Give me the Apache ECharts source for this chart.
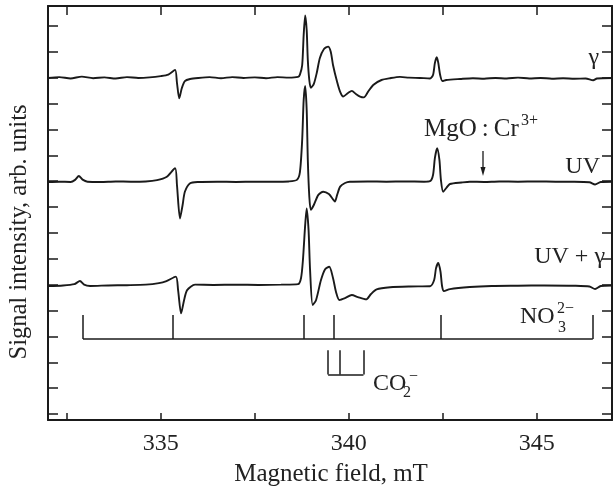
<!DOCTYPE html>
<html>
<head>
<meta charset="utf-8">
<script src="https://cdn.jsdelivr.net/npm/echarts@6/dist/echarts.min.js"></script>
<style>
  html, body { margin: 0; padding: 0; background: #fff; }
  #chart { width: 613px; height: 491px; }
</style>
</head>
<body>
<div id="chart"></div>
<script>
  // field (mT) / signal (arb. units, offset per trace)
  const gamma = [
    [332.0, 12.99], [332.3, 13.02], [332.6, 12.97], [332.9, 13.04], [333.2, 12.98], [333.5, 13.01],
    [333.8, 12.97], [334.1, 13.02], [334.4, 12.99], [334.7, 13.01], [335.0, 13.06], [335.2, 13.12],
    [335.38, 13.3], [335.43, 12.8], [335.49, 12.2], [335.56, 12.6], [335.64, 12.87], [335.78, 12.95],
    [336.0, 12.99], [336.3, 13.02], [336.6, 12.98], [336.9, 13.02], [337.2, 12.99], [337.5, 13.01],
    [337.8, 12.98], [338.1, 13.02], [338.4, 13.0], [338.65, 13.03], [338.70, 13.12], [338.76, 13.48],
    [338.80, 14.65], [338.84, 15.4], [338.88, 14.84], [338.91, 13.68], [338.95, 12.9], [338.99, 12.61],
    [339.07, 12.76], [339.15, 13.2], [339.23, 13.76], [339.34, 14.11], [339.45, 14.2], [339.52, 14.0],
    [339.58, 13.49], [339.69, 12.83], [339.77, 12.45], [339.85, 12.27], [339.98, 12.41], [340.08, 12.49],
    [340.19, 12.37], [340.30, 12.27], [340.40, 12.24], [340.51, 12.45], [340.65, 12.72], [340.87, 12.91],
    [341.10, 12.98], [341.36, 13.03], [341.6, 13.0], [341.89, 12.99], [342.16, 12.97], [342.24, 13.1],
    [342.29, 13.57], [342.34, 13.79], [342.38, 13.57], [342.43, 13.1], [342.49, 12.87], [342.59, 12.91],
    [342.96, 12.95], [343.3, 12.98], [343.6, 12.96], [343.9, 12.99], [344.2, 12.97], [344.5, 13.0],
    [344.8, 12.97], [345.1, 12.99], [345.4, 12.96], [345.7, 12.98], [346.0, 12.96], [346.3, 12.97],
    [346.5, 12.9], [346.6, 12.97], [347.0, 12.99]
  ];

  const uv = [
    [332.0, 8.97], [332.3, 8.98], [332.6, 8.97], [332.72, 9.05], [332.82, 9.2], [332.92, 9.06],
    [333.05, 8.98], [333.4, 8.97], [333.8, 8.99], [334.2, 8.98], [334.6, 8.99], [334.9, 9.04],
    [335.15, 9.16], [335.38, 9.5], [335.43, 8.85], [335.51, 7.56], [335.58, 8.08], [335.64, 8.59],
    [335.78, 8.92], [336.0, 8.97], [336.5, 8.98], [337.0, 8.97], [337.5, 8.98], [338.0, 8.98],
    [338.4, 8.99], [338.62, 9.05], [338.70, 9.35], [338.76, 10.59], [338.80, 12.14], [338.84, 12.68],
    [338.88, 11.75], [338.91, 9.82], [338.95, 8.4], [338.99, 7.89], [339.07, 8.08], [339.19, 8.47],
    [339.32, 8.59], [339.47, 8.5], [339.58, 8.3], [339.63, 8.21], [339.69, 8.47], [339.77, 8.79],
    [339.90, 8.93], [340.03, 8.98], [340.5, 8.99], [341.0, 8.98], [341.5, 8.99], [342.0, 8.98],
    [342.16, 9.0], [342.24, 9.24], [342.29, 9.9], [342.35, 10.27], [342.41, 9.82], [342.45, 9.05],
    [342.51, 8.59], [342.6, 8.75], [342.69, 8.89], [343.0, 8.95], [343.22, 8.98], [343.6, 8.97],
    [344.0, 8.99], [344.5, 8.98], [345.0, 8.99], [345.5, 8.98], [346.0, 8.98], [346.4, 8.96],
    [346.55, 8.87], [346.7, 8.97], [347.0, 8.98]
  ];

  const uvGamma = [
    [332.0, 4.95], [332.4, 4.97], [332.7, 5.02], [332.85, 5.14], [332.96, 5.0], [333.12, 4.95],
    [333.6, 4.97], [334.1, 4.98], [334.6, 5.0], [334.95, 5.06], [335.15, 5.14], [335.40, 5.31],
    [335.46, 4.79], [335.54, 3.89], [335.62, 4.41], [335.70, 4.79], [335.91, 5.0], [336.4, 4.99],
    [337.0, 5.0], [337.6, 4.99], [338.2, 5.0], [338.65, 5.02], [338.73, 5.26], [338.78, 5.95],
    [338.84, 7.31], [338.88, 7.95], [338.93, 7.11], [338.97, 5.57], [339.04, 4.21], [339.13, 4.41],
    [339.26, 5.18], [339.37, 5.6], [339.48, 5.69], [339.58, 5.26], [339.66, 4.72], [339.75, 4.41],
    [339.90, 4.48], [340.08, 4.6], [340.24, 4.52], [340.46, 4.43], [340.59, 4.64], [340.74, 4.82],
    [341.10, 4.9], [341.63, 4.93], [342.16, 4.94], [342.27, 5.18], [342.32, 5.64], [342.38, 5.84],
    [342.44, 5.49], [342.48, 4.95], [342.53, 4.75], [342.69, 4.83], [343.22, 4.91], [343.8, 4.95],
    [344.5, 4.96], [345.2, 4.97], [346.0, 4.96], [346.4, 4.93], [346.55, 4.83], [346.7, 4.95],
    [347.0, 4.97]
  ];

  // stick diagrams
  const no3Lines = [332.93, 335.32, 338.81, 339.61, 342.45, 346.49];
  const co2Lines = [339.45, 339.77, 340.39];

  const xTicks = [332.5, 335, 337.5, 340, 342.5, 345];
  const xLabels = [335, 340, 345];
  const yTicks = [0, 1, 2, 3, 4, 5, 6, 7, 8, 9, 10, 11, 12, 13, 14, 15];

  const ink = '#1a1a1a';
  const serif = '"Liberation Serif", "Times New Roman", serif';

  const sticks = (pos, base, top) => {
    const out = [{ coords: [[pos[0], base], [pos[pos.length - 1], base]] }];
    pos.forEach((p) => out.push({ coords: [[p, base], [p, top]] }));
    return out;
  };

  const frameX = (position, len, labels) => ({
    type: 'value',
    min: 332,
    max: 347,
    position: position,
    axisLine: { show: true, onZero: false, lineStyle: { color: ink, width: 2 } },
    axisTick: { show: true, inside: true, length: len, customValues: xTicks, lineStyle: { color: ink, width: 1.5 } },
    axisLabel: labels
      ? { show: true, customValues: xLabels, fontSize: 24, fontFamily: serif, color: '#222', margin: 12 }
      : { show: false },
    splitLine: { show: false },
  });

  const frameY = (position) => ({
    type: 'value',
    min: -0.23,
    max: 15.77,
    position: position,
    axisLine: { show: true, onZero: false, lineStyle: { color: ink, width: 2 } },
    axisTick: { show: true, inside: true, length: 10, customValues: yTicks, lineStyle: { color: ink, width: 1.5 } },
    axisLabel: { show: false },
    splitLine: { show: false },
  });

  const trace = (data) => ({
    type: 'line',
    data: data,
    xAxisIndex: 0,
    yAxisIndex: 0,
    showSymbol: false,
    smooth: 0.25,
    lineStyle: { color: ink, width: 1.9 },
    silent: true,
    animation: false,
  });

  const txt = (text, x, y, size, align) => ({
    type: 'text',
    x: x,
    y: y,
    style: { text: text, fill: '#222', font: size + 'px ' + serif, align: align || 'left', verticalAlign: 'middle' },
  });

  const chart = echarts.init(document.getElementById('chart'), null, { renderer: 'canvas' });

  chart.setOption({
    animation: false,
    grid: { left: 48, top: 6, right: 1, bottom: 71 },
    xAxis: [frameX('bottom', 7, true), frameX('top', 9, false)],
    yAxis: [frameY('left'), frameY('right')],
    series: [
      trace(gamma),
      trace(uv),
      trace(uvGamma),
      {
        type: 'lines',
        coordinateSystem: 'cartesian2d',
        data: sticks(no3Lines, 2.9, 3.83),
        lineStyle: { color: ink, width: 1.5, opacity: 1 },
        silent: true,
      },
      {
        type: 'lines',
        coordinateSystem: 'cartesian2d',
        data: sticks(co2Lines, 1.53, 2.47),
        lineStyle: { color: ink, width: 1.5, opacity: 1 },
        silent: true,
      },
    ],
    graphic: [
      {
        type: 'text',
        x: 20,
        y: 232,
        rotation: Math.PI / 2,
        style: { text: 'Signal intensity, arb. units', fill: '#222', font: '24.5px ' + serif, align: 'center', verticalAlign: 'middle' },
      },
      txt('Magnetic field, mT', 331, 474, 25, 'center'),
      txt('γ', 599, 58, 24, 'right'),
      txt('MgO\u2009:\u2009Cr', 424, 129, 25),
      txt('3+', 521, 121, 16),
      txt('UV', 600, 167, 24, 'right'),
      txt('UV + γ', 605, 257, 24, 'right'),
      txt('NO', 520, 317, 24),
      txt('2−', 557, 309, 16),
      txt('3', 558, 328, 16),
      txt('CO', 373, 384, 24),
      txt('−', 409, 377, 16),
      txt('2', 403, 393, 16),
      // arrow to MgO:Cr3+ line
      { type: 'line', shape: { x1: 483, y1: 151, x2: 483, y2: 170 }, style: { stroke: ink, lineWidth: 1.3 } },
      { type: 'polygon', shape: { points: [[480.5, 167], [485.5, 167], [483, 176]] }, style: { fill: ink } },
    ],
  });
</script>
</body>
</html>
